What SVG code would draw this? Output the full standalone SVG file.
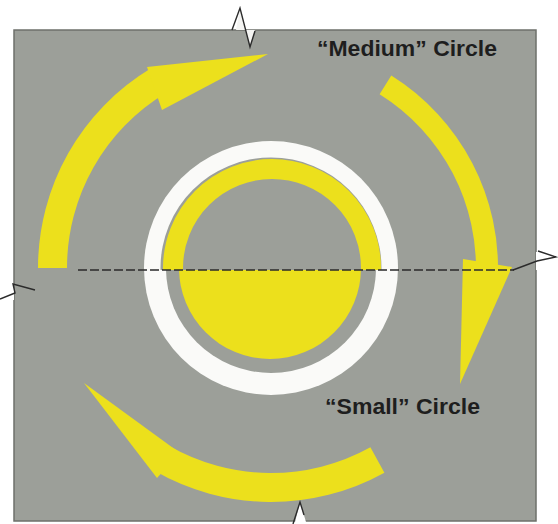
<svg xmlns="http://www.w3.org/2000/svg" width="558" height="524" viewBox="0 0 558 524">
  <defs>
    <style>
      .yel { fill: #ECE01C; }
      .gray { fill: #9C9F99; }
      .brk { fill: none; stroke: #2b2b2b; stroke-width: 1.4; stroke-linejoin: miter; }
      .lbl { font-family: "Liberation Sans", Arial, sans-serif; font-weight: bold; font-size: 22px; fill: #1e1e1e; }
    </style>
    <clipPath id="upper"><rect x="0" y="0" width="558" height="270"/></clipPath>
    <clipPath id="lower"><rect x="0" y="270" width="558" height="254"/></clipPath>
  </defs>
  <rect width="558" height="524" fill="#ffffff"/>

  <g id="sheet">
    <rect x="14" y="30" width="522" height="491" class="gray" stroke="#6e706b" stroke-width="1.5"/>
    <!-- break marks -->
    <polygon points="236,30 240,9 250,46 255,30" fill="#f4f4f2"/>
    <polyline class="brk" points="232,30 240,8 250,47 255,31"/>
    <rect x="0" y="284" width="14" height="16" fill="#ffffff"/>
    <polyline class="brk" points="0,299 15,293 13,284 35,290"/>
    <rect x="536" y="252" width="22" height="18" fill="#ffffff"/>
    <polyline class="brk" points="513,270 537,261 556,257 538,251"/>
    <polygon points="295,522 300,502 306,522" fill="#ffffff"/>
    <polyline class="brk" points="293,524 300,502 304,515"/>
  </g>

  <g id="circles">
    <circle cx="271" cy="268" r="127" fill="#FAFAF8"/>
    <g clip-path="url(#upper)">
      <circle cx="271" cy="268" r="110.5" class="gray"/>
      <circle cx="272" cy="268" r="99" fill="none" stroke="#ECE01C" stroke-width="20"/>
    </g>
    <g clip-path="url(#lower)">
      <circle cx="271" cy="268" r="105" class="gray"/>
      <circle cx="270" cy="268" r="91" class="yel"/>
    </g>
  </g>

  <g id="connectors">
    <g id="arrow-left">
      <path class="yel" d="M 38,268 A 233 233 0 0 1 151,68.3 L 165.9,93.1 A 204 204 0 0 0 67,268 Z"/>
      <polygon class="yel" points="147,67 268,54 162,110"/>
    </g>
    <g id="arrow-right">
      <path class="yel" d="M 391.3,75.5 A 227 227 0 0 1 497.7,279.9 L 475.7,278.7 A 205 205 0 0 0 379.6,94.2 Z"/>
      <polygon class="yel" points="463,259 512,267 460,384"/>
    </g>
    <g id="arrow-bottom">
      <path class="yel" d="M 384.4,472.7 A 234 234 0 0 1 154,470.6 L 168.5,445.5 A 205 205 0 0 0 370.4,447.3 Z"/>
      <polygon class="yel" points="180,453 84,383 157,478"/>
    </g>
    <line id="axis" x1="78" y1="270" x2="514" y2="270" stroke="#2a2a2a" stroke-width="1.4" stroke-dasharray="9 3"/>
  </g>

  <g id="label-medium">
    <text class="lbl" x="317" y="56" textLength="180" lengthAdjust="spacingAndGlyphs">“Medium” Circle</text>
  </g>
  <g id="label-small">
    <text class="lbl" x="325" y="414" textLength="155" lengthAdjust="spacingAndGlyphs">“Small” Circle</text>
  </g>
</svg>
